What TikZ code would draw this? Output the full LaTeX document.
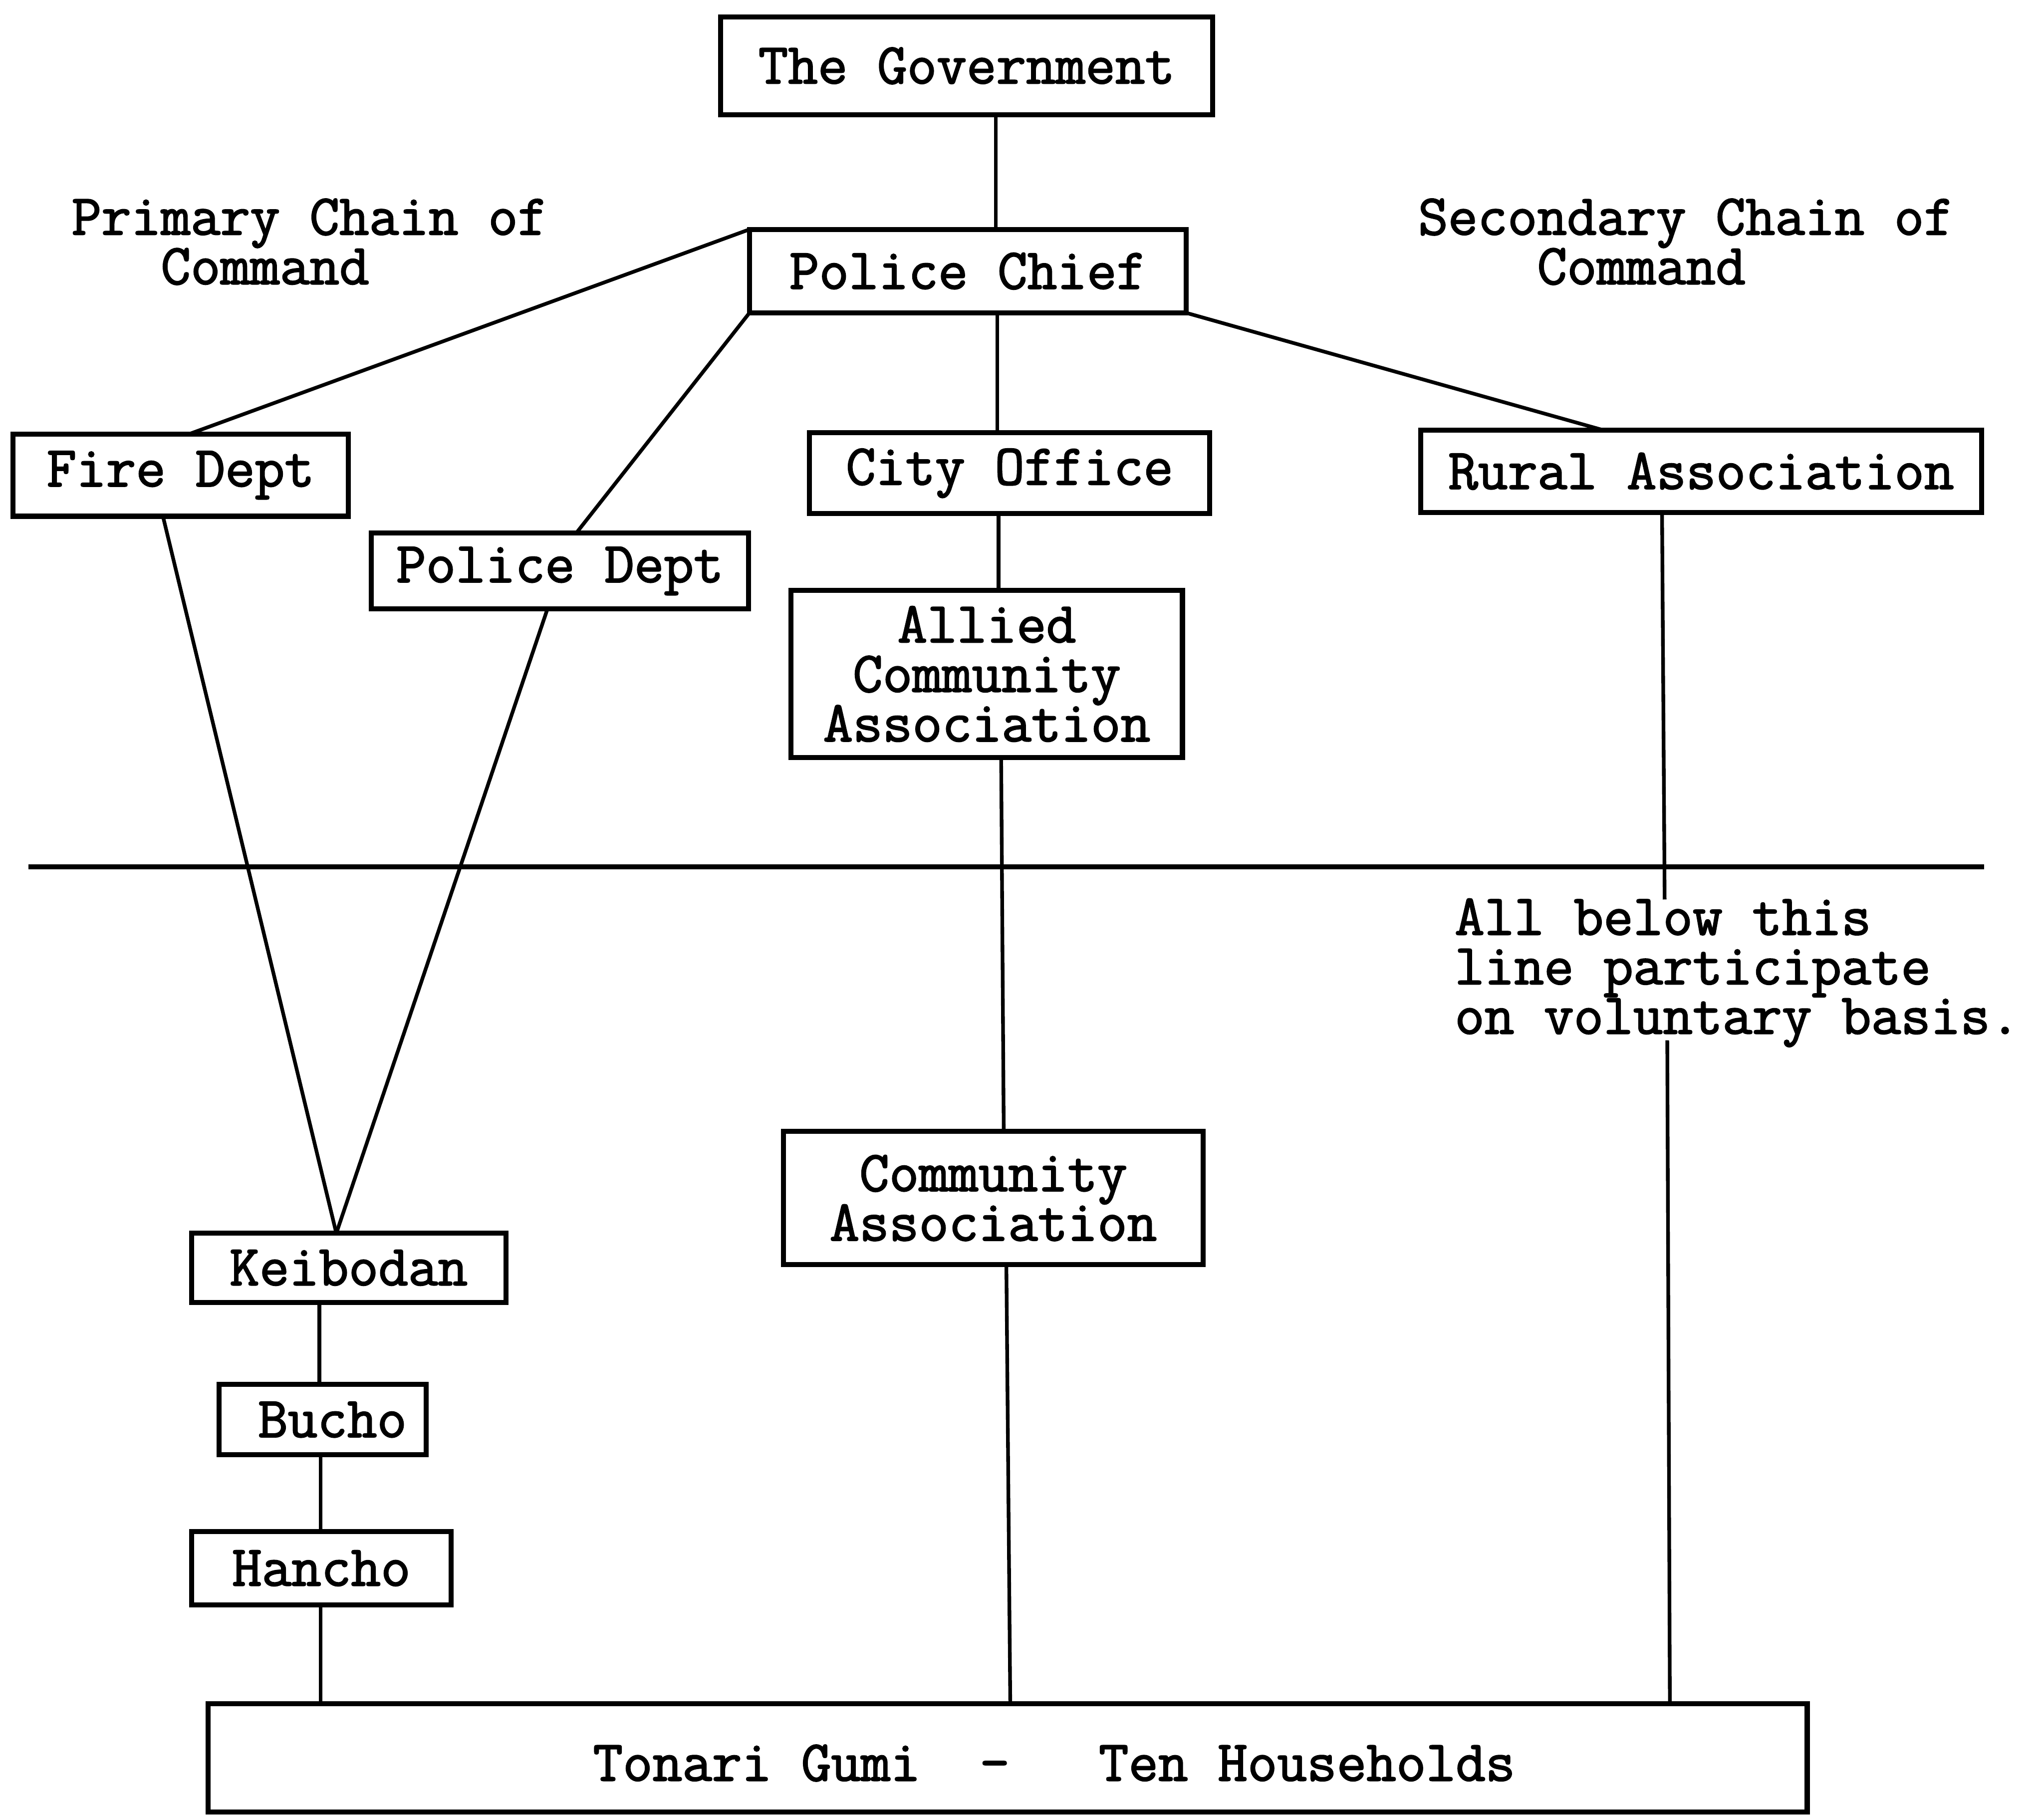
\documentclass[tikz,border=0pt]{standalone}
\usepackage{fontspec}
\newfontfamily\tw{Latin Modern Mono}[FakeBold=2]
\begin{document}
\begin{tikzpicture}[x=0.01cm,y=-0.01cm,
  txt/.style={font=\tw\fontsize{12.6}{10.8}\selectfont},
  box/.style={draw, line width=1.1pt, inner sep=0pt, outer sep=0pt, txt, align=center},
  link/.style={line width=0.8pt},
  divider/.style={line width=1.1pt},
  lbl/.style={inner sep=0pt, outer sep=0pt, txt, align=left, anchor=base west}]
\useasboundingbox (0,0) rectangle (1568,1393);
% boxes
\node[box, minimum width=3.77cm, minimum height=0.75cm] (gov) at (741.5,50.5) {The Government};
\node[box, minimum width=3.35cm, minimum height=0.64cm] (chief) at (742.5,208) {Police Chief};
\node[box, minimum width=2.57cm, minimum height=0.63cm] (fire) at (138.5,364.5) {Fire Dept};
\node[box, minimum width=3.07cm, minimum height=0.62cm] (city) at (774.5,363) {City Office};
\node[box, minimum width=4.30cm, minimum height=0.63cm] (rural) at (1305,361.5) {Rural Association};
\node[box, minimum width=2.89cm, minimum height=0.58cm] (pdept) at (429.5,438) {Police Dept};
\node[box, minimum width=3.00cm, minimum height=1.28cm] (allied) at (757,517) {Allied\\Community\\Association};
\node[box, minimum width=3.22cm, minimum height=1.02cm] (comm) at (762,919) {Community\\Association};
\node[box, minimum width=2.41cm, minimum height=0.53cm] (keib) at (267.5,972.5) {Keibodan};
\node[box, minimum width=1.59cm, minimum height=0.54cm] (bucho) at (247.5,1089) {\hspace*{0.15cm}Bucho};
\node[box, minimum width=1.99cm, minimum height=0.56cm] (hancho) at (246.5,1203) {Hancho};
\node[box, minimum width=12.26cm, minimum height=0.83cm] (tonari) at (773,1348.5) {};
\node[lbl] (tonaritxt) at (455,1366) {Tonari Gumi~~-~~~Ten Households};
% free texts
\node[lbl] (primary) at (55,218) {Primary Chain of\\~~~Command};
\node[lbl] (secondary) at (1088,218) {Secondary Chain of\\~~~~Command};
\node[lbl] (voluntary) at (1116,793) {All below this\\line participate\\on voluntary basis.};
% divider line
\coordinate (hl1) at (22,665);
\coordinate (hl2) at (1522,665);
\draw[divider] (hl1) -- (hl2);
% columns
\coordinate (cA) at (764,0);
\coordinate (cB) at (765,0);
\coordinate (cC) at (766,0);
\coordinate (cD) at (768,0);
\coordinate (cE) at (770,0);
\coordinate (cF) at (772,0);
\coordinate (cG) at (775,0);
\coordinate (cK) at (258,0);
\coordinate (cR1) at (1275,0);
\coordinate (cR4) at (1281,0);
\coordinate (cL) at (246,0);
\coordinate (gapTop) at (1277,690);
\coordinate (gapBot) at (1279,798);
% connectors
\draw[link] (gov.south -| cA) -- (chief.north -| cA);
\draw[link] (chief.north west) -- (fire.north -| 145,0);
\draw[link] (chief.south west) -- (pdept.north -| 442,0);
\draw[link] (chief.south -| cB) -- (city.north -| cB);
\draw[link] (chief.south east) -- (rural.north -| 1230,0);
\draw[link] (city.south -| cC) -- (allied.north -| cC);
\draw[link] (allied.south -| cD) -- (comm.north -| cE);
\draw[link] (comm.south -| cF) -- (tonari.north -| cG);
\draw[link] (rural.south -| cR1) -- (gapTop);
\draw[link] (gapBot) -- (tonari.north -| cR4);
\draw[link] (fire.south -| 125,0) -- (keib.north -| cK);
\draw[link] (pdept.south -| 420,0) -- (keib.north -| cK);
\draw[link] (keib.south -| 245,0) -- (bucho.north -| 245,0);
\draw[link] (bucho.south -| cL) -- (hancho.north -| cL);
\draw[link] (hancho.south -| cL) -- (tonari.north -| cL);
\end{tikzpicture}
\end{document}
